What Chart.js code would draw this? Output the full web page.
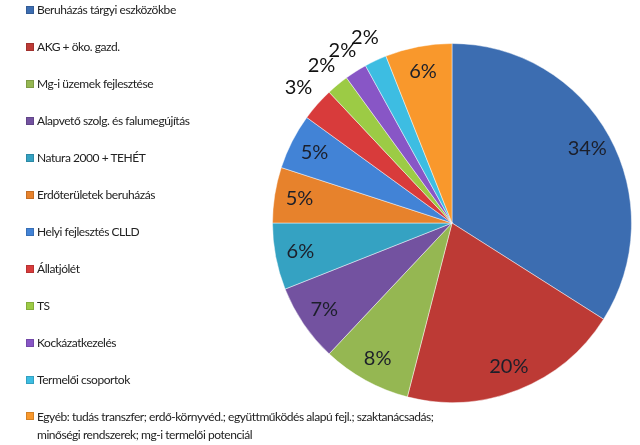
<!DOCTYPE html>
<html>
<head>
<meta charset="utf-8">
<script src="https://cdn.jsdelivr.net/npm/chart.js@4/dist/chart.umd.min.js"></script>
<style>
  html, body { margin: 0; padding: 0; background: #fff; }
  #wrap { position: relative; width: 640px; height: 445px; overflow: hidden; }
  #pie { position: absolute; left: 0; top: 0; }
  #legend { position: absolute; left: 26px; top: 2px; font-family: Lato, sans-serif; font-size: 12px; letter-spacing: -0.45px; color: #222; }
  .item { position: relative; height: 37px; padding-left: 11px; line-height: 16px; white-space: nowrap; }
  .item.wrapped { line-height: 18px; margin-top: -1px; }
  .box { position: absolute; left: 0; top: 4px; width: 8px; height: 8px; box-shadow: inset 0 0 0 1px rgba(0,0,0,0.15); }
</style>
</head>
<body>
<div id="wrap">
  <canvas id="pie" width="640" height="445"></canvas>
  <div id="legend"></div>
</div>
<script>
const CATEGORIES = [
  'Beruházás tárgyi eszközökbe',
  'AKG + öko. gazd.',
  'Mg-i üzemek fejlesztése',
  'Alapvető szolg. és falumegújítás',
  'Natura 2000 + TEHÉT',
  'Erdőterületek beruházás',
  'Helyi fejlesztés CLLD',
  'Állatjólét',
  'TS',
  'Kockázatkezelés',
  'Termelői csoportok',
  'Egyéb: tudás transzfer; erdő-környvéd.; együttműködés alapú fejl.; szaktanácsadás;\nminőségi rendszerek; mg-i termelői potenciál',
];
const SHARES = [34, 20, 8, 7, 6, 5, 5, 3, 2, 2, 2, 6];
const COLORS = [
  '#3c6db1', '#bd3a35', '#95b752', '#7352a0', '#35a2c2', '#e7822c',
  '#4283d6', '#d83b3b', '#9ccb45', '#8856c6', '#3dbde2', '#f9982c',
];

// legend built from the same arrays
const legendEl = document.getElementById('legend');
CATEGORIES.forEach((name, i) => {
  const item = document.createElement('div');
  item.className = 'item';
  const box = document.createElement('span');
  box.className = 'box';
  box.style.background = COLORS[i];
  item.appendChild(box);
  const lines = name.split('\n');
  lines.forEach((line, j) => {
    if (j > 0) item.appendChild(document.createElement('br'));
    item.appendChild(document.createTextNode(line));
  });
  if (lines.length > 1) item.classList.add('wrapped');
  legendEl.appendChild(item);
});

const pctLabels = {
  id: 'pctLabels',
  afterDatasetsDraw(chart) {
    const ctx = chart.ctx;
    const meta = chart.getDatasetMeta(0);
    ctx.save();
    ctx.font = '20px Lato, sans-serif';
    ctx.textAlign = 'center';
    ctx.textBaseline = 'middle';
    meta.data.forEach((arc, i) => {
      const p = arc.getProps(['x', 'y', 'startAngle', 'endAngle', 'outerRadius'], true);
      const mid = (p.startAngle + p.endAngle) / 2;
      const small = SHARES[i] <= 3;
      const r = p.outerRadius * (small ? 1.14 : 0.86);
      ctx.fillStyle = small ? '#111' : '#1c1f2a';
      ctx.fillText(SHARES[i] + '%', p.x + Math.cos(mid) * r, p.y + Math.sin(mid) * r);
    });
    ctx.restore();
  }
};

new Chart(document.getElementById('pie').getContext('2d'), {
  type: 'pie',
  data: {
    labels: CATEGORIES,
    datasets: [{
      data: SHARES,
      backgroundColor: COLORS,
      borderColor: 'rgba(255,255,255,0.45)',
      borderWidth: 1,
    }],
  },
  options: {
    responsive: false,
    animation: false,
    layout: { padding: { left: 272, right: 8, top: 43, bottom: 42 } },
    plugins: {
      legend: { display: false },
      tooltip: { enabled: false },
    },
  },
  plugins: [pctLabels],
});
</script>
</body>
</html>
